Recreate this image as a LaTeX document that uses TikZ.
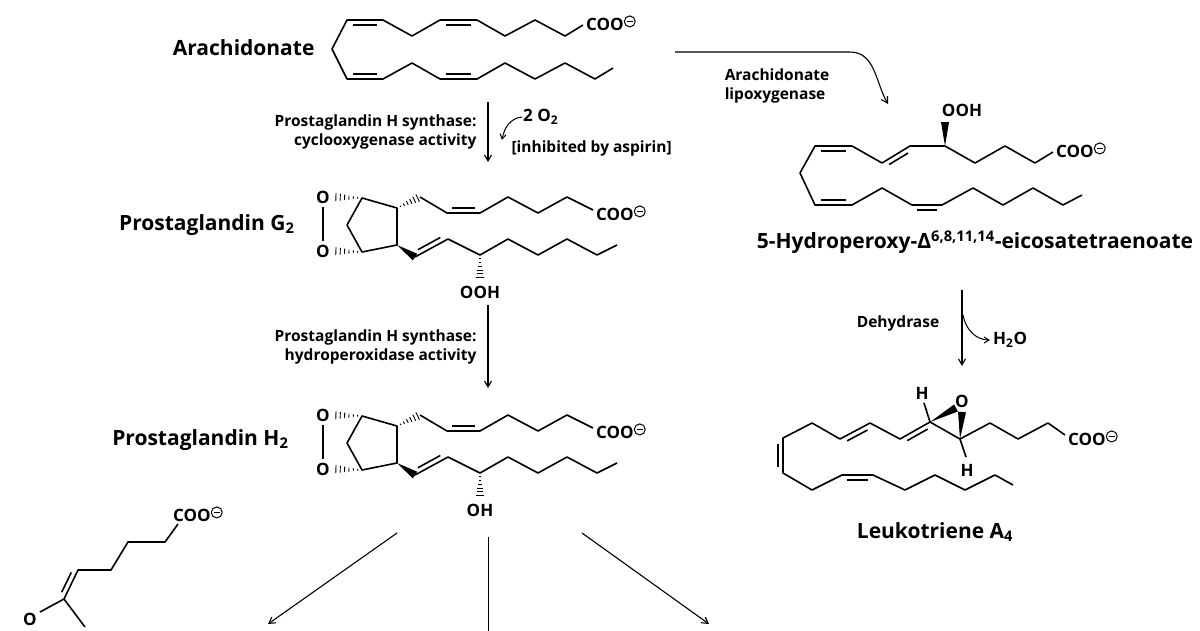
\documentclass[tikz,border=0pt]{standalone}
\usepackage{fontspec}
\setmainfont{Open Sans}
\usetikzlibrary{calc,arrows.meta}
\newcommand\dbl[3]{\draw ($(#1)!0.16!(#2)!5pt!#3:(#2)$) -- ($(#2)!0.16!(#1)!5pt!-#3:(#1)$);}
\newcommand\hashw[2]{\foreach \t in {0.15,0.3,...,1.0}{\draw[line width=0.9pt] ($(#1)!\t!(#2)!{\t*4.5pt}!90:(#2)$) -- ($(#1)!\t!(#2)!{\t*4.5pt}!-90:(#2)$);}}
\newcommand\wedg[2]{\fill (#1) -- ($(#2)!4pt!90:(#1)$) -- ($(#2)!4pt!-90:(#1)$) -- cycle;}
\newcommand\omin{\tikz[baseline={(0,-9pt)}]{\draw[line width=1pt] (0,0) circle (5.5pt); \draw[line width=1pt] (-3.2pt,0)--(3.2pt,0);}}
\newcommand\coo{\textbf{COO}\omin}
\tikzset{bond/.style={line width=1.6pt,line join=round},
 big/.style={font=\fontsize{21}{24}\selectfont\bfseries},
 lab/.style={font=\fontsize{15.5}{19}\selectfont\bfseries,align=right},
 grp/.style={font=\fontsize{17}{19}\selectfont\bfseries,inner sep=1pt},
 rxn/.style={line width=1.1pt,-{Straight Barb[length=6pt,width=7pt]}}}
\begin{document}
\begin{tikzpicture}[x=1pt,y=-1pt]
\useasboundingbox (0,0) rectangle (1200,630);
\begin{scope}[bond]
% Arachidonate
\draw (583,25)--(565,36)--(535,20)--(505,36)--(477,20)--(440,20)--(412,36)--(383,20)--(347,20)--(332,49)--(347,79)--(383,79)--(412,63)--(440,79)--(477,79)--(505,63)--(535,79)--(565,63)--(595,79)--(613,68);
\dbl{347,20}{383,20}{-90}\dbl{440,20}{477,20}{-90}\dbl{347,79}{383,79}{90}\dbl{440,79}{477,79}{90}
\node[grp,anchor=west] (aacoo) at (585,23) {\coo};
% PGG2 and PGH2
\foreach \dy/\oh in {0/OOH,218/OH}{
\begin{scope}[yshift=-\dy pt]
\draw (362,198)--(397,208)--(397,245)--(362,252)--(347,225)--cycle;
\draw (323,207)--(323,241);
\node[grp] at (323,197) {O};\node[grp] at (323,251) {O};
\hashw{362,198}{333,197}\hashw{362,252}{333,251}
\hashw{397,208}{420,197}
\draw (420,197)--(447,213)--(480,213)--(508,197)--(538,213)--(567,197)--(593,210);
\dbl{447,213}{480,213}{90}
\node[grp,anchor=west] at (595,213) {\coo};
\wedg{397,245}{415,257}
\draw (415,257)--(448,239)--(480,255)--(508,239)--(538,255)--(567,239)--(597,255)--(617,245);
\dbl{415,257}{448,239}{90}
\hashw{480,255}{480,280}
\node[grp] at (480,292) {\oh};
\end{scope}}
% 5-HPETE
\draw (1053,152)--(1035,163)--(1005,146)--(975,163)--(945,146)--(910,146)--(882,163)--(852,146)--(815,146)--(800,173)--(815,205)--(852,205)--(882,188)--(912,205)--(942,205)--(973,188)--(1003,205)--(1033,188)--(1063,205)--(1082,195);
\dbl{910,146}{882,163}{90}\dbl{852,146}{815,146}{90}\dbl{815,205}{852,205}{90}\dbl{912,205}{942,205}{-90}
\wedg{945,146}{945,122}
\node[grp] at (962,110) {OOH};
\node[grp,anchor=west] at (1055,150) {\coo};
% LTA4
\draw (1065,435)--(1048,423)--(1018,439)--(990,423)--(960,439)--(930,422)--(900,439)--(870,423)--(840,439)--(812,423)--(783,438)--(783,473)--(812,490)--(842,475)--(873,475)--(905,490)--(935,475)--(965,490)--(995,475)--(1013,485);
\dbl{930,422}{900,439}{90}\dbl{870,423}{840,439}{90}\dbl{783,438}{783,473}{-90}\dbl{842,475}{873,475}{-90}
\draw (930,422)--(924,403);\draw (960,439)--(966,457);
\wedg{930,422}{956,408}\wedg{960,439}{962,412}
\node[grp] at (922,393) {H};\node[grp] at (962,401) {O};\node[grp] at (967,470) {H};
\node[grp,anchor=west] at (1067,438) {\coo};
% fragment
\draw (178,524)--(165,542)--(128,542)--(111,570)--(78,570)--(64,599)--(85,627);
\draw (64,599)--(40,612);
\dbl{78,570}{64,599}{-90}
\node[grp] at (30,619) {O};
\node[grp,anchor=west] at (172,514) {\coo};
\end{scope}
% labels
\node[big,anchor=east] at (318,48) {Arachidonate};
\node[big,anchor=east] at (298,225) {Prostaglandin G$_{\mathbf 2}$};
\node[big,anchor=east] at (292,440) {Prostaglandin H$_{\mathbf 2}$};
\node[big] at (975,242) {5-Hydroperoxy-Δ\textsuperscript{6,8,11,14}-eicosatetraenoate};
\node[big] at (935,532) {Leukotriene A$_{\mathbf 4}$};
% arrows
\coordinate (a1s) at (488,102);\coordinate (a1e) at (488,162);
\draw[rxn] (a1s)--(a1e);
\node[lab,anchor=east] at (480,132) {Prostaglandin H synthase:\\cyclooxygenase activity};
\node[grp,anchor=west] (o2) at (522,117) {2 O$_{\mathbf 2}$};
\draw[line width=1pt,-{Straight Barb[length=5pt,width=6pt]}] (o2.west) to[out=185,in=80] (502,140);
\node[lab,anchor=west,align=left] at (508,148) {[inhibited by aspirin]};
\coordinate (a2s) at (488,305);\coordinate (a2e) at (488,388);
\draw[rxn] (a2s)--(a2e);
\node[lab,anchor=east] at (480,347) {Prostaglandin H synthase:\\hydroperoxidase activity};
\coordinate (l1) at (675,52);\coordinate (l2) at (888,104);
\draw[rxn] (l1)--(850,52) to[out=0,in=120] (l2);
\node[lab,align=left] at (777,86) {Arachidonate\\lipoxygenase};
\coordinate (d1) at (962,290);\coordinate (d2) at (962,366);
\draw[rxn] (d1)--(d2);
\draw[line width=1pt,-{Straight Barb[length=5pt,width=6pt]}] (963,315) to[out=-80,in=180] (990,340);
\node[grp,anchor=west] at (992,340) {H$_{\mathbf 2}$O};
\node[lab] at (898,323) {Dehydrase};
\coordinate (b0) at (397,533);\coordinate (b1) at (268,624);
\coordinate (c0) at (488,537);\coordinate (c1) at (488,640);
\coordinate (e0) at (582,533);\coordinate (e1) at (709,624);
\draw[rxn] (b0)--(b1);\draw[line width=0.9pt] (c0)--(c1);\draw[rxn] (e0)--(e1);
\end{tikzpicture}
\end{document}
